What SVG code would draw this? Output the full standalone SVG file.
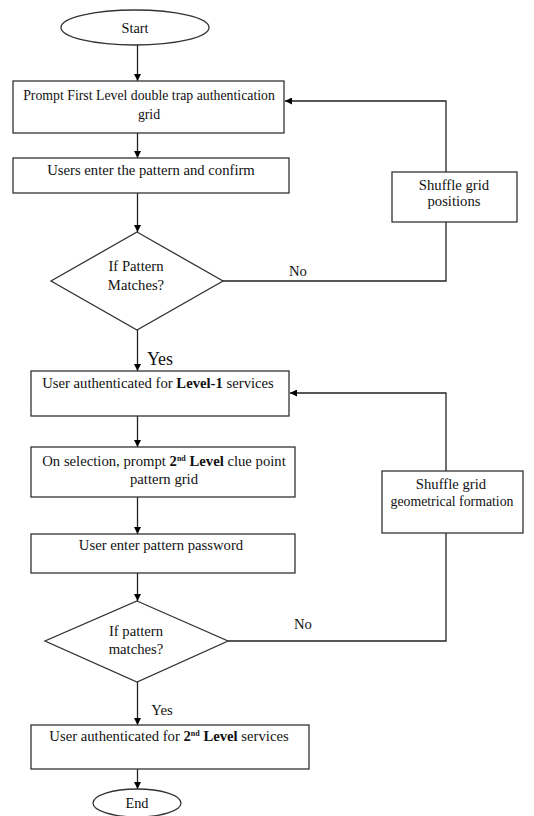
<svg xmlns="http://www.w3.org/2000/svg" width="534" height="816" viewBox="0 0 534 816">
<defs>
<marker id="ah" viewBox="0 0 10 10" refX="10" refY="5" markerWidth="7" markerHeight="7" markerUnits="userSpaceOnUse" orient="auto">
<path d="M0,0 L10,5 L0,10 z" fill="#000"/>
</marker>
<style>
.n{fill:#fff;stroke:#333;stroke-width:1.3}
.t{font-family:"Liberation Serif","Times New Roman",serif;font-size:14.7px;fill:#111;text-anchor:middle}
.s{font-size:13.8px}
.c{fill:none;stroke:#222;stroke-width:1.3}
.a{marker-end:url(#ah)}
.b{font-weight:bold}
</style>
</defs>
<rect width="534" height="816" fill="#fff"/>
<g id="connectors">
<line class="c a" x1="137.5" y1="45" x2="137.5" y2="81"/>
<line class="c a" x1="137.5" y1="133" x2="137.5" y2="158"/>
<line class="c a" x1="137.5" y1="193" x2="137.5" y2="232"/>
<polyline class="c" points="223,281 446,281 446,222"/>
<polyline class="c a" points="446,172 446,101 285,101"/>
<line class="c a" x1="137.5" y1="330" x2="137.5" y2="371"/>
<line class="c a" x1="137.5" y1="416" x2="137.5" y2="447"/>
<line class="c a" x1="137.5" y1="497" x2="137.5" y2="534"/>
<line class="c a" x1="137.5" y1="573" x2="137.5" y2="601"/>
<polyline class="c" points="228,641 446,641 446,533"/>
<polyline class="c a" points="446,471 446,393 290,393"/>
<line class="c a" x1="137.5" y1="682" x2="137.5" y2="725"/>
<line class="c a" x1="137.5" y1="769" x2="137.5" y2="789"/>
<text class="t" x="298" y="276">No</text>
<text class="t" x="160" y="365" style="font-size:18px">Yes</text>
<text class="t" x="303" y="629">No</text>
<text class="t" x="162" y="715">Yes</text>
</g>
<g id="start">
<ellipse class="n" cx="135" cy="27.5" rx="74" ry="17.5"/>
<text class="t" x="135" y="32.5" style="font-size:14.3px">Start</text>
</g>
<g id="prompt1">
<rect class="n" x="13" y="81" width="271" height="52"/>
<text class="t s" x="149" y="100">Prompt First Level double trap authentication</text>
<text class="t s" x="149" y="119">grid</text>
</g>
<g id="enter1">
<rect class="n" x="13" y="158" width="276" height="35"/>
<text class="t" x="151" y="175">Users enter the pattern and confirm</text>
</g>
<g id="shuffle1">
<rect class="n" x="392" y="172" width="125" height="50"/>
<text class="t" x="454" y="190">Shuffle grid</text>
<text class="t" x="454" y="206">positions</text>
</g>
<g id="decision1">
<polygon class="n" points="137,232 223,281 137,330 51,281"/>
<text class="t" x="136" y="271">If Pattern</text>
<text class="t" x="136" y="290">Matches?</text>
</g>
<g id="auth1">
<rect class="n" x="31" y="371" width="258" height="45"/>
<text class="t" x="158" y="388">User authenticated for <tspan class="b">Level-1</tspan> services</text>
</g>
<g id="prompt2">
<rect class="n" x="31" y="447" width="264" height="50"/>
<text class="t" x="164" y="466">On selection, prompt <tspan class="b">2<tspan dy="-5" style="font-size:8px">nd</tspan><tspan dy="5"> Level</tspan></tspan> clue point</text>
<text class="t" x="164" y="484">pattern grid</text>
</g>
<g id="enter2">
<rect class="n" x="31" y="534" width="264" height="39"/>
<text class="t" x="161" y="550">User enter pattern password</text>
</g>
<g id="shuffle2">
<rect class="n" x="382" y="471" width="141" height="62"/>
<text class="t" x="451" y="489">Shuffle grid</text>
<text class="t s" x="452" y="506">geometrical formation</text>
</g>
<g id="decision2">
<polygon class="n" points="137,601 228,641 137,682 45,641"/>
<text class="t" x="136" y="636">If pattern</text>
<text class="t" x="136" y="654">matches?</text>
</g>
<g id="auth2">
<rect class="n" x="31" y="725" width="278" height="44"/>
<text class="t" x="169" y="741">User authenticated for <tspan class="b">2<tspan dy="-5" style="font-size:8px">nd</tspan><tspan dy="5"> Level</tspan></tspan> services</text>
</g>
<g id="end">
<ellipse class="n" cx="137" cy="803" rx="44" ry="14"/>
<text class="t" x="137" y="808" style="font-size:14.3px">End</text>
</g>
</svg>
